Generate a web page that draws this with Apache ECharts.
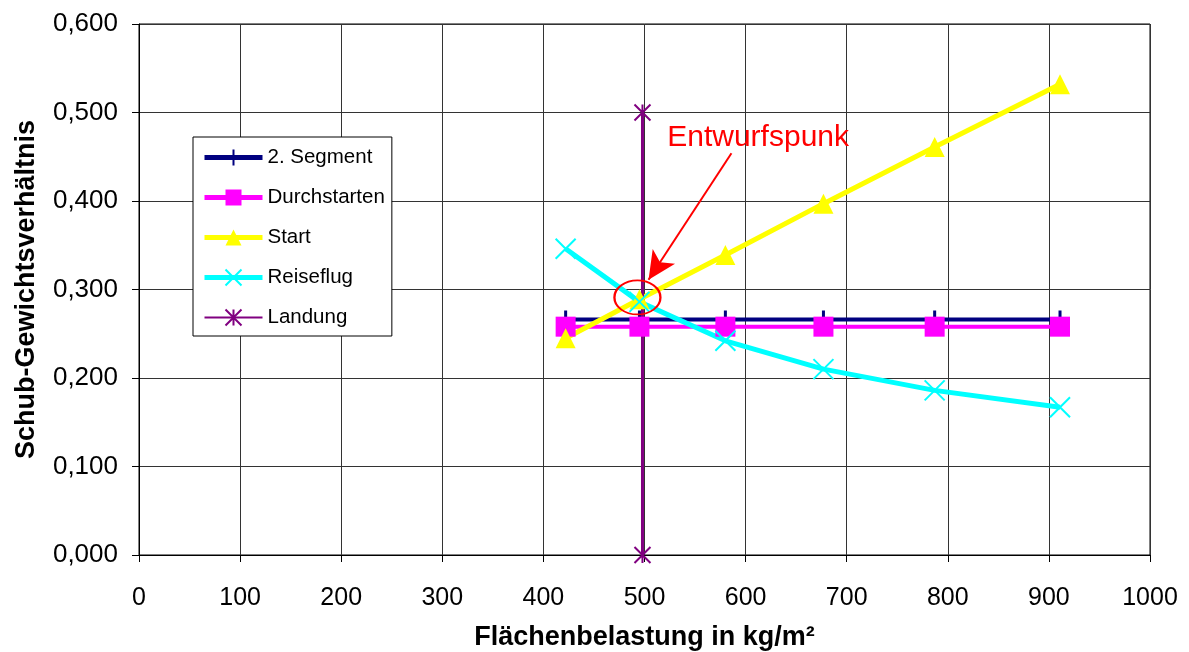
<!DOCTYPE html>
<html><head><meta charset="utf-8">
<script src="https://cdn.jsdelivr.net/npm/echarts@6/dist/echarts.min.js"></script>
<style>html,body{margin:0;padding:0;background:#fff}#c{width:1189px;height:652px}</style>
</head><body><div id="c"></div>
<script>
const xVals = [422, 495, 580, 677, 787, 911];
const segment = [0.266, 0.266, 0.266, 0.266, 0.266, 0.266];
const durchstarten = [0.258, 0.258, 0.258, 0.258, 0.258, 0.258];
const start = [0.245, 0.289, 0.339, 0.397, 0.461, 0.532];
const reiseflug = [0.346, 0.286, 0.242, 0.210, 0.186, 0.167];
const landungX = [498, 498];
const landungY = [0.0, 0.5];
const seriesNames = ['2. Segment', 'Durchstarten', 'Start', 'Reiseflug', 'Landung'];
const xTitle = 'Flächenbelastung in kg/m²';
const yTitle = 'Schub-Gewichtsverhältnis';
const noteText = 'Entwurfspunk';
const noteTextPos = [522, 0.472];
const arrowFrom = [586, 0.454];
const arrowTo = [504, 0.311];
const circlePos = [493, 0.291];

const pair = (xs, ys) => xs.map((x, i) => [x, ys[i]]);
const FONT = 'Liberation Sans, Arial, sans-serif';
const plusPath = 'path://M5,0L5,10M0,5L10,5';
const crossPath = 'path://M0,0L10,10M10,0L0,10';
const starPath = 'path://M0,0L10,10M10,0L0,10M5,0L5,10';
const colors = ['#000080', '#ff00ff', '#ffff00', '#00ffff', '#800080'];
const legendLineWidths = [5, 5, 5, 5, 2];

const chart = echarts.init(document.getElementById('c'), null, {renderer: 'canvas'});
chart.setOption({
  animation: false,
  backgroundColor: '#fff',
  grid: {left: 139, right: 39, top: 24, bottom: 97, show: true, borderColor: '#000', borderWidth: 1,
    containLabel: false, outerBoundsMode: 'none'},
  xAxis: {
    type: 'value', min: 0, max: 1000, interval: 100,
    name: xTitle, nameLocation: 'middle', nameGap: 69,
    nameTextStyle: {fontFamily: FONT, fontSize: 27, fontWeight: 'bold', color: '#000'},
    axisLine: {show: true, onZero: false, lineStyle: {color: '#000'}},
    axisTick: {show: true, length: 7, lineStyle: {color: '#000'}},
    axisLabel: {fontFamily: FONT, fontSize: 25, color: '#000', margin: 31,
      formatter: v => String(v)},
    splitLine: {show: true, lineStyle: {color: '#333', width: 1}}
  },
  yAxis: {
    type: 'value', min: 0, max: 0.6, interval: 0.1,
    name: yTitle, nameLocation: 'middle', nameGap: 99,
    nameTextStyle: {fontFamily: FONT, fontSize: 27, fontWeight: 'bold', color: '#000'},
    axisLine: {show: true, lineStyle: {color: '#000'}},
    axisTick: {show: true, length: 7, lineStyle: {color: '#000'}},
    axisLabel: {fontFamily: FONT, fontSize: 26, color: '#000', margin: 21,
      formatter: v => v.toFixed(3).replace('.', ',')},
    splitLine: {show: true, lineStyle: {color: '#333', width: 1}}
  },
  legend: {
    orient: 'vertical', left: 193, top: 137,
    backgroundColor: '#fff', borderColor: '#000', borderWidth: 1,
    padding: [10, 7, 8, 9], itemGap: 19, itemWidth: 58, itemHeight: 20,
    textStyle: {fontFamily: FONT, fontSize: 20.5, color: '#000'},
    data: seriesNames.map((n, i) => ({name: n,
      lineStyle: {width: legendLineWidths[i], color: colors[i]}}))
  },
  series: [
    {name: seriesNames[0], type: 'line', data: pair(xVals, segment),
      lineStyle: {color: colors[0], width: 4}, symbol: plusPath, symbolSize: 18,
      itemStyle: {color: colors[0], borderColor: colors[0], borderWidth: 3}},
    {name: seriesNames[1], type: 'line', data: pair(xVals, durchstarten),
      lineStyle: {color: colors[1], width: 4}, symbol: 'rect', symbolSize: 20,
      itemStyle: {color: colors[1]}},
    {name: seriesNames[2], type: 'line', data: pair(xVals, start),
      lineStyle: {color: colors[2], width: 5}, symbol: 'triangle', symbolSize: 20,
      itemStyle: {color: colors[2]}},
    {name: seriesNames[3], type: 'line', data: pair(xVals, reiseflug),
      lineStyle: {color: colors[3], width: 5}, symbol: crossPath, symbolSize: 20,
      itemStyle: {color: colors[3], borderColor: colors[3], borderWidth: 2}},
    {name: seriesNames[4], type: 'line', data: pair(landungX, landungY),
      lineStyle: {color: colors[4], width: 3}, symbol: starPath, symbolSize: 16,
      itemStyle: {color: colors[4], borderColor: colors[4], borderWidth: 2},
      markLine: {
        silent: true, symbol: ['none', 'arrow'], symbolSize: [20, 28],
        lineStyle: {color: '#ff0000', width: 2, type: 'solid'},
        label: {show: false},
        data: [[{coord: arrowFrom}, {coord: arrowTo}]]
      },
      markPoint: {
        silent: true,
        data: [
          {coord: circlePos, symbol: 'circle', symbolSize: [46, 34],
            itemStyle: {color: 'rgba(0,0,0,0)', borderColor: '#ff0000', borderWidth: 2},
            label: {show: false}},
          {coord: noteTextPos, symbol: 'circle', symbolSize: 1,
            itemStyle: {color: 'rgba(0,0,0,0)'},
            label: {show: true, formatter: noteText, position: 'right', distance: 0,
              fontFamily: FONT, fontSize: 30, color: '#ff0000'}}
        ]
      }
    }
  ]
});
</script></body></html>
